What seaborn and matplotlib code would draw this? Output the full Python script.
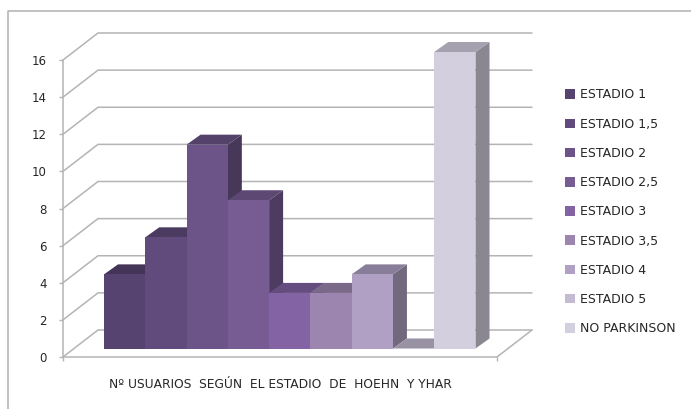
import matplotlib
matplotlib.use("Agg")
import matplotlib.pyplot as plt
from matplotlib.lines import Line2D
from matplotlib.patches import Polygon
import matplotlib.colors as mc
import numpy as np
import pandas as pd
import seaborn as sns

categories = ["ESTADIO 1", "ESTADIO 1,5", "ESTADIO 2", "ESTADIO 2,5", "ESTADIO 3",
              "ESTADIO 3,5", "ESTADIO 4", "ESTADIO 5", "NO PARKINSON"]
values = [4, 6, 11, 8, 3, 3, 4, 0, 16]
colors = ["#574370", "#614b7c", "#6d5488", "#775b93", "#8363a4",
          "#9c86b0", "#b0a1c4", "#c4bad2", "#d4cfdf"]
yticks = [0, 2, 4, 6, 8, 10, 12, 14, 16]
xlabel = "Nº USUARIOS  SEGÚN  EL ESTADIO  DE  HOEHN  Y YHAR"

W, H = 691, 409
GRID = "#b4b4b4"
sns.set_theme(style="white")
plt.rcParams["font.family"] = ["DejaVu Sans"]
TXT = "#262626"


def px_axes(fig, x0, x1, ytop, ybot):
    return fig.add_axes([x0 / W, 1 - ybot / H, (x1 - x0) / W, (ybot - ytop) / H])


fig = plt.figure(figsize=(W / 100, H / 100), dpi=100)
fig.patch.set_facecolor("white")
fig.add_artist(Line2D([8 / W, 8 / W, 1], [0, 1 - 11 / H, 1 - 11 / H], color="#b0b0b0", lw=1.1))

# Frontal axis with the value scale
ax = px_axes(fig, 63, 497, 60, 357)
ax.set_xlim(0, 1)
ax.set_ylim(0, 16)
ax.patch.set_alpha(0)
for s in ["top", "right"]:
    ax.spines[s].set_visible(False)
for s in ["left", "bottom"]:
    ax.spines[s].set_color(GRID)
    ax.spines[s].set_linewidth(1.1)
ax.set_yticks(yticks)
ax.set_xticks([0, 1])
ax.set_xticklabels([])
ax.tick_params(axis="both", length=3, width=1, color=GRID, labelsize=8.5, labelcolor=TXT, left=True, bottom=True)
ax.tick_params(axis="y", pad=8.5)
ax.set_xlabel(xlabel, fontsize=8.8, color=TXT)
ax.xaxis.set_label_coords(217 / 434, -(385 - 357) / 297, transform=ax.transAxes)
ax.xaxis.label.set_va("center")

wall_dx = 35 / 434
wall_dy = 27 / (297 / 16)
for v in yticks:
    ax.plot([0, wall_dx, 1 + wall_dx], [v, v + wall_dy, v + wall_dy], color=GRID, lw=1.1, clip_on=False, zorder=1)
ax.plot([1, 1 + wall_dx], [0, wall_dy], color=GRID, lw=1.1, clip_on=False, zorder=1)

# Bars, sitting on the floor
bx = px_axes(fig, 104, 475.5, 52, 348.5)
df = pd.DataFrame({"cat": categories, "val": values})
sns.barplot(data=df, x="cat", y="val", hue="cat", order=categories, hue_order=categories,
            palette=colors, dodge=False, width=1, saturation=1, ax=bx, linewidth=0, legend=False)
bx.set_xlim(-0.5, 8.5)
bx.set_ylim(0, 16)
bx.axis("off")
bx.patch.set_alpha(0)
bar_patches = list(bx.patches)
for p in bar_patches:
    p.set_zorder(30)

depth_x = 14 / (371.5 / 9)
depth_y = 10 / (296.5 / 16)


def shade(c, k):
    return tuple(np.array(mc.to_rgb(c)) * k)


for i, (v, c) in enumerate(zip(values, colors)):
    l, r = i - 0.5, i + 0.5
    bx.add_patch(Polygon([(r, 0), (r + depth_x, depth_y), (r + depth_x, v + depth_y), (r, v)],
                         closed=True, fc=shade(c, 0.65), ec="none", clip_on=False, zorder=2 + i))
    bx.add_patch(Polygon([(l, v), (r, v), (r + depth_x, v + depth_y), (l + depth_x, v + depth_y)],
                         closed=True, fc=shade(c, 0.78), ec="none", clip_on=False, zorder=2 + i))

fig.legend(bar_patches, categories, loc="upper left", bbox_to_anchor=(565 / W, 1 - 88.5 / H), frameon=False,
           fontsize=9, handlelength=0.8, handleheight=0.8, handletextpad=0.36,
           labelspacing=1.297, labelcolor=TXT, borderpad=0, borderaxespad=0)

fig.savefig("out.png", dpi=100)
